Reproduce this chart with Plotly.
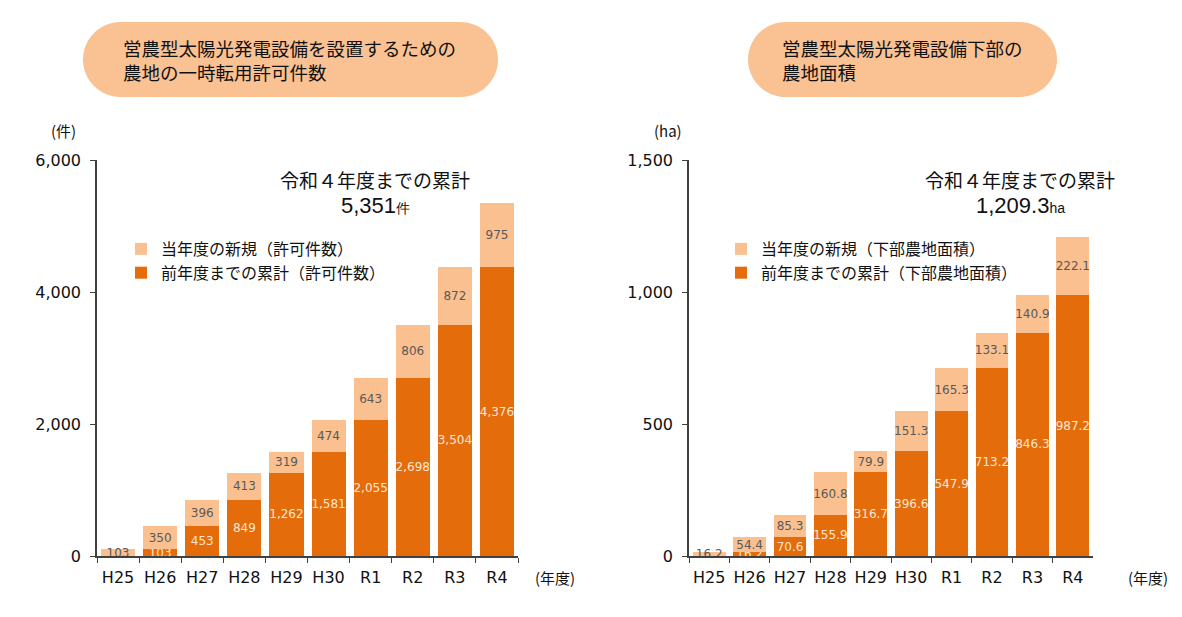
import plotly.graph_objects as go
from plotly.subplots import make_subplots

# data
years = ["H25", "H26", "H27", "H28", "H29", "H30", "R1", "R2", "R3", "R4"]
kensu_prev = [0, 103, 453, 849, 1262, 1581, 2055, 2698, 3504, 4376]
kensu_new = [103, 350, 396, 413, 319, 474, 643, 806, 872, 975]
area_prev = [0, 16.2, 70.6, 155.9, 316.7, 396.6, 547.9, 713.2, 846.3, 987.2]
area_new = [16.2, 54.4, 85.3, 160.8, 79.9, 151.3, 165.3, 133.1, 140.9, 222.1]

DARK = "#E46C0A"
LIGHT = "#FAC090"
PILL = "#FAC193"
JP = "Noto Sans CJK JP"
NUM = "DejaVu Sans"

# the autosized graph sits at (8, 8) in the window, 1166 x 601
OX, OY, FW, FH = 8, 8, 1166, 601


def px2paper(x, y):
    return (x - OX) / FW, 1 - (y - OY) / FH


def pill_path(x0, y0, x1, y1):
    # stadium shape drawn in pixel space, converted to paper coords
    r = (y1 - y0) / 2
    k = 0.5523 * r
    pts = [
        ("M", [(x0 + r, y0)]),
        ("L", [(x1 - r, y0)]),
        ("C", [(x1 - r + k, y0), (x1, y0 + r - k), (x1, y0 + r)]),
        ("C", [(x1, y0 + r + k), (x1 - r + k, y1), (x1 - r, y1)]),
        ("L", [(x0 + r, y1)]),
        ("C", [(x0 + r - k, y1), (x0, y0 + r + k), (x0, y0 + r)]),
        ("C", [(x0, y0 + r - k), (x0 + r - k, y0), (x0 + r, y0)]),
    ]
    s = ""
    for cmd, ps in pts:
        s += cmd + " " + " ".join("%.5f,%.5f" % px2paper(px, py) for px, py in ps) + " "
    return s + "Z"


fig = make_subplots(rows=1, cols=2)

bar_text = dict(textposition="inside", insidetextanchor="middle",
                constraintext="none", textangle=0)

fig.add_trace(go.Bar(
    x=years, y=kensu_prev, name="前年度までの累計（許可件数）",
    marker=dict(color=DARK, line=dict(width=0)),
    text=["" if v == 0 else f"{v:,}" for v in kensu_prev],
    textfont=dict(color="#FDE6D2", size=12, family=NUM),
    legend="legend", legendrank=2, **bar_text,
), row=1, col=1)
fig.add_trace(go.Bar(
    x=years, y=kensu_new, name="当年度の新規（許可件数）",
    marker=dict(color=LIGHT, line=dict(width=0)),
    text=[f"{v:,}" for v in kensu_new],
    textfont=dict(color="#595959", size=12, family=NUM),
    legend="legend", legendrank=1, **bar_text,
), row=1, col=1)
fig.add_trace(go.Bar(
    x=years, y=area_prev, name="前年度までの累計（下部農地面積）",
    marker=dict(color=DARK, line=dict(width=0)),
    text=["" if v == 0 else f"{v:,.1f}" for v in area_prev],
    textfont=dict(color="#FDE6D2", size=12, family=NUM),
    legend="legend2", legendrank=2, **bar_text,
), row=1, col=2)
fig.add_trace(go.Bar(
    x=years, y=area_new, name="当年度の新規（下部農地面積）",
    marker=dict(color=LIGHT, line=dict(width=0)),
    text=[f"{v:,.1f}" for v in area_new],
    textfont=dict(color="#595959", size=12, family=NUM),
    legend="legend2", legendrank=1, **bar_text,
), row=1, col=2)

axis_common = dict(showline=True, linecolor="#404040", linewidth=1.5,
                   ticks="outside", ticklen=5, tickcolor="#404040",
                   showgrid=False, zeroline=False, automargin=False)

x_l0, y_bot = px2paper(97, 556)
x_l1, y_top = px2paper(518, 160)
x_r0, _ = px2paper(689, 556)
x_r1, _ = px2paper(1093, 556)

fig.update_xaxes(domain=[x_l0, x_l1], row=1, col=1)
fig.update_xaxes(domain=[x_r0, x_r1], row=1, col=2)
fig.update_xaxes(tickson="boundaries", ticklabelstandoff=6, tickangle=0,
                 tickfont=dict(size=16, color="#111", family=NUM), **axis_common)
fig.update_yaxes(domain=[y_bot, y_top], ticklabelstandoff=6,
                 tickfont=dict(size=16, color="#111", family=NUM),
                 tickformat=",d", **axis_common)
fig.update_yaxes(range=[0, 6000], tickvals=[0, 2000, 4000, 6000], row=1, col=1)
fig.update_yaxes(range=[0, 1500], tickvals=[0, 500, 1000, 1500], row=1, col=2)

shapes = [
    dict(type="path", xref="paper", yref="paper", path=pill_path(83, 22, 498, 97),
         fillcolor=PILL, line=dict(width=0), layer="below"),
    dict(type="path", xref="paper", yref="paper", path=pill_path(748, 22, 1057, 97),
         fillcolor=PILL, line=dict(width=0), layer="below"),
]


def ann(text, x, y, size, xanchor="center", family=JP, color="#111"):
    px, py = px2paper(x, y)
    return dict(text=text, x=px, y=py, xref="paper", yref="paper", showarrow=False,
                xanchor=xanchor, yanchor="middle", align="left",
                font=dict(size=size, family=family, color=color))


annotations = [
    ann("営農型太陽光発電設備を設置するための<br>農地の一時転用許可件数", 121, 60, 18.5, "left"),
    ann("営農型太陽光発電設備下部の<br>農地面積", 780, 60, 18.5, "left"),
    ann("(件)", 63, 130, 15),
    ann("(ha)", 668, 130, 15),
    ann("(年度)", 533, 577, 15, "left"),
    ann("(年度)", 1126, 577, 15, "left"),
    ann("令和４年度までの累計", 375, 180, 19),
    ann("5,351<span style='font-size:14px'>件</span>", 375, 206, 22, family="Liberation Sans"),
    ann("令和４年度までの累計", 1020, 180, 19),
    ann("1,209.3<span style='font-size:14px'>ha</span>", 1020, 206, 22, family="Liberation Sans"),
]

lx1, ly1 = px2paper(121, 232)
lx2, ly2 = px2paper(721, 232)
legend_common = dict(xref="paper", yref="paper", xanchor="left", yanchor="top",
                     traceorder="normal",
                     bgcolor="rgba(0,0,0,0)", font=dict(size=16, family=JP, color="#111"),
                     itemwidth=30, tracegroupgap=0)

fig.update_layout(
    autosize=True,
    margin=dict(l=0, r=0, t=0, b=0),
    barmode="stack", bargap=0.19,
    plot_bgcolor="white", paper_bgcolor="white",
    font=dict(family=JP),
    shapes=shapes,
    annotations=annotations,
    legend=dict(x=lx1, y=ly1, **legend_common),
    legend2=dict(x=lx2, y=ly2, **legend_common),
    showlegend=True,
)

fig.write_html("out.html")
